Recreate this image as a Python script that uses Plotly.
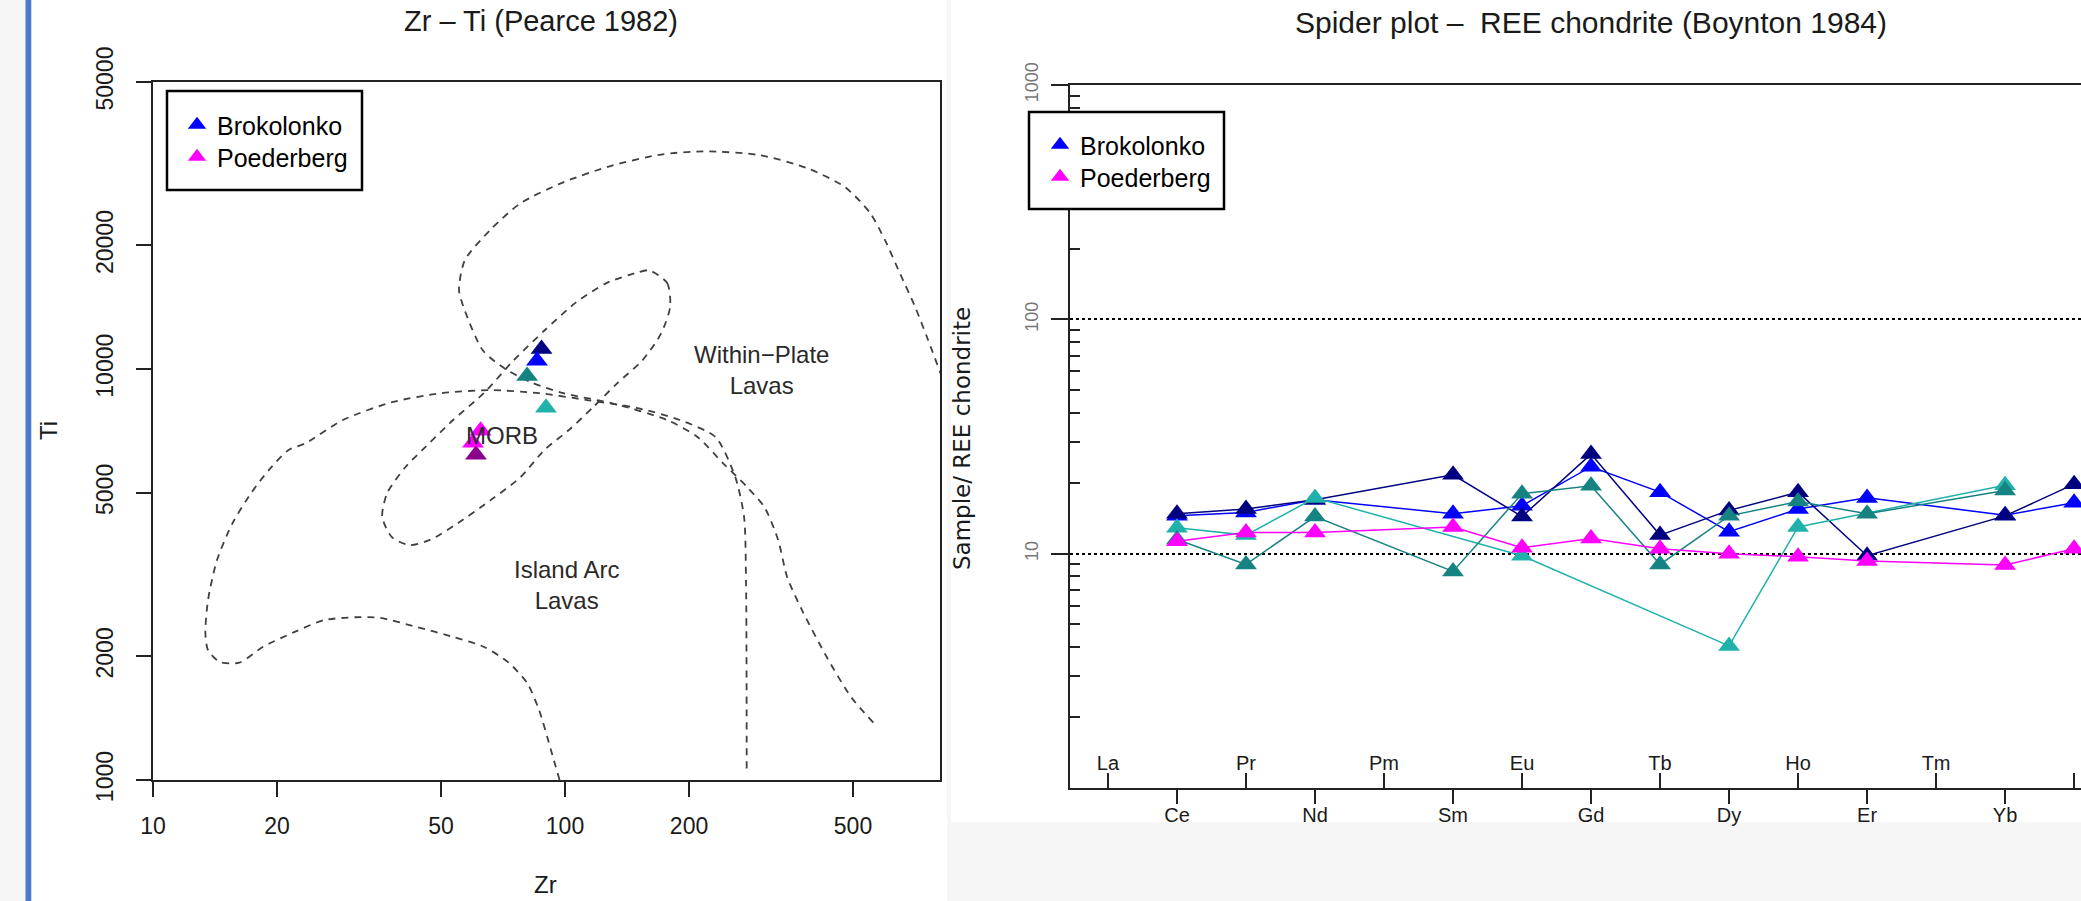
import math
import plotly.graph_objects as go

# ---------------- Left panel: Zr - Ti (Pearce 1982) ----------------
ZT_COLORS = ["navy", "blue", "#168383", "lightseagreen", "magenta", "magenta", "darkmagenta"]
ZT_ZR = [87.7, 85.5, 80.9, 89.9, 62.4, 59.8, 60.8]
ZT_TI = [11190, 10480, 9630, 8050, 7080, 6620, 6190]

# field boundaries (Zr ppm, Ti ppm)
WP_ZR = [560, 495, 432, 376, 346, 329, 305, 277, 242, 210, 177, 130, 99, 83.6, 72.3, 63.2, 57.1,
         55.3, 57.1, 65.8, 77.8, 99, 130, 171, 217, 296, 389, 479, 550, 598, 650, 707, 760, 836]
WP_TI = [1380, 1590, 1990, 2590, 3120, 3840, 4610, 5160, 5900, 6830, 7520, 8260, 8740, 9250, 9950,
         11100, 13900, 15560, 18400, 21800, 25300, 28500, 31300, 33300, 33900, 33200, 30800, 27700,
         24000, 20600, 17100, 14200, 11800, 9140]

MORB_ZR = [160, 177, 180, 171, 154, 134, 117, 102, 89, 78, 66, 55, 47, 42, 38, 36, 37, 41, 45,
           53.5, 63.5, 75, 89, 106, 126, 150, 160]
MORB_TI = [17400, 16200, 14200, 12200, 10500, 9250, 8080, 7100, 6350, 5460, 4800, 4220, 3840, 3730,
           3900, 4370, 4990, 5780, 6350, 7520, 8740, 10500, 12400, 14500, 16200, 17200, 17400]

IA_ZR = [97, 92.5, 86.5, 81, 73, 63.5, 53.5, 43.5, 35.6, 31, 26, 22, 18.5, 16.2, 14.5, 13.6, 13.4,
         13.6, 14.3, 15.6, 17.3, 19.1, 21.3, 23.5, 28.9, 38, 50, 65.8, 86.5, 114, 150, 190, 232,
         259, 272, 275, 276]
IA_TI = [1000, 1180, 1480, 1720, 1930, 2110, 2230, 2360, 2480, 2490, 2450, 2290, 2110, 1930, 1940,
         2070, 2280, 2740, 3430, 4220, 4990, 5680, 6350, 6610, 7520, 8310, 8740, 8890, 8740, 8400,
         8040, 7520, 6830, 5460, 4370, 3010, 1030]

FIELD_TEXT = ["Within\u2212Plate<br>Lavas", "MORB", "Island Arc<br>Lavas"]
FIELD_ZR = [300, 70.3, 100.6]
FIELD_TI = [9950, 6900, 2980]

ZR_TICKS = [10, 20, 50, 100, 200, 500]
TI_TICKS = [1000, 2000, 5000, 10000, 20000, 50000]

# ---------------- Right panel: REE spider plot ----------------
REE = ["La", "Ce", "Pr", "Nd", "Pm", "Sm", "Eu", "Gd", "Tb", "Dy", "Ho", "Er", "Tm", "Yb", "Lu"]
REE_BLUE = [None, 14.5, 15.0, 17.0, None, 14.8, 16.0, 23.5, 18.3, 12.4, 15.5, 17.3, None, 14.6, 16.5]
REE_NAVY = [None, 14.8, 15.5, 17.0, None, 21.7, 14.4, 26.6, 12.0, 15.3, 18.3, 9.8, None, 14.5, 19.8]
REE_CYAN = [None, 12.9, 12.0, 17.3, None, None, 9.8, None, None, 4.04, 13.0, None, None, 19.6, None]
REE_TEAL = [None, 11.5, 9.0, 14.4, None, 8.4, 18.0, 19.5, 9.0, 14.5, 16.7, 14.8, None, 18.6, None]
REE_MAGENTA = [None, 11.3, 12.3, 12.3, None, 13.0, 10.6, 11.6, 10.5, 10.0, 9.7, 9.3, None, 8.95, 10.5]
SPIDER_SERIES = [REE_BLUE, REE_NAVY, REE_CYAN, REE_TEAL, REE_MAGENTA]
SPIDER_COLORS = ["blue", "navy", "lightseagreen", "#168383", "magenta"]

Y_TICKS_REE = [1, 10, 100, 1000]
LEGEND_NAMES = ["Brokolonko", "Poederberg"]
LEGEND_COLORS = ["blue", "magenta"]

# ---------------- helpers ----------------
W, H = 2081, 901
def px(x):
    return x / W
def py(y):
    return 1 - y / H

FONT = "Liberation Sans, Arial, sans-serif"
TXT = "#1a1a1a"
AX = "#222222"
BOUND = "#404040"

fig = go.Figure()

# boundaries
for xs, ys in [(WP_ZR, WP_TI), (MORB_ZR, MORB_TI), (IA_ZR, IA_TI)]:
    fig.add_trace(go.Scatter(x=xs, y=ys, mode="lines", xaxis="x", yaxis="y",
                             line=dict(color=BOUND, width=1.8, dash="7px,6px", shape="spline", smoothing=0.7),
                             showlegend=False, hoverinfo="skip"))

for zr, ti, c in zip(ZT_ZR, ZT_TI, ZT_COLORS):
    fig.add_trace(go.Scatter(x=[zr], y=[ti], mode="markers", xaxis="x", yaxis="y",
                             marker=dict(symbol="triangle-up", size=19, color=c, line=dict(width=0)),
                             showlegend=False))

x_idx = list(range(len(REE)))
for vals, c in zip(SPIDER_SERIES, SPIDER_COLORS):
    fig.add_trace(go.Scatter(x=x_idx, y=vals, mode="lines+markers", connectgaps=True,
                             xaxis="x2", yaxis="y2",
                             line=dict(color=c, width=1.5),
                             marker=dict(symbol="triangle-up", size=19, color=c, line=dict(width=0)),
                             showlegend=False))
# registers the secondary (inside-label) category axis
fig.add_trace(go.Scatter(x=[None], y=[None], xaxis="x3", yaxis="y2", mode="markers",
                         showlegend=False, hoverinfo="skip"))

# legend entries (one legend per entry for exact placement)
leg_left = ["legend", "legend3"]
leg_right = ["legend2", "legend4"]
for name, c, ll, lr in zip(LEGEND_NAMES, LEGEND_COLORS, leg_left, leg_right):
    fig.add_trace(go.Scatter(x=[None], y=[None], mode="markers", xaxis="x", yaxis="y",
                             marker=dict(symbol="triangle-up", size=16, color=c),
                             name=name, legend=ll, showlegend=True))
    fig.add_trace(go.Scatter(x=[None], y=[None], mode="markers", xaxis="x2", yaxis="y2",
                             marker=dict(symbol="triangle-up", size=16, color=c),
                             name=name, legend=lr, showlegend=True))

shapes = [
    dict(type="rect", xref="paper", yref="paper", x0=px(31), x1=px(947), y0=0, y1=1,
         fillcolor="white", line=dict(width=0), layer="below"),
    dict(type="rect", xref="paper", yref="paper", x0=px(951), x1=1, y0=py(822), y1=1,
         fillcolor="white", line=dict(width=0), layer="below"),
    dict(type="rect", xref="paper", yref="paper", x0=px(25.5), x1=px(31.3), y0=0, y1=1,
         fillcolor="#4a78d0", line=dict(width=0), layer="below"),
    dict(type="rect", xref="paper", yref="paper", x0=px(167), x1=px(362), y0=py(190), y1=py(91),
         fillcolor="white", line=dict(color="black", width=2.5), layer="above"),
    dict(type="rect", xref="paper", yref="paper", x0=px(1029), x1=px(1224), y0=py(209), y1=py(112),
         fillcolor="white", line=dict(color="black", width=2.5), layer="above"),
]

annotations = [
    dict(text="Zr \u2013 Ti (Pearce 1982)", x=px(541), y=py(21), xref="paper", yref="paper",
         showarrow=False, font=dict(family=FONT, size=29, color=TXT), xanchor="center", yanchor="middle"),
    dict(text="Spider plot \u2013  REE chondrite (Boynton 1984)", x=px(1591), y=py(23), xref="paper", yref="paper",
         showarrow=False, font=dict(family=FONT, size=30, color=TXT), xanchor="center", yanchor="middle"),
    dict(text="Ti", x=px(48), y=py(431), xref="paper", yref="paper", textangle=-90,
         showarrow=False, font=dict(family=FONT, size=24, color=TXT), xanchor="center", yanchor="middle"),
    dict(text="Zr", x=px(545), y=py(884), xref="paper", yref="paper",
         showarrow=False, font=dict(family=FONT, size=24, color=TXT), xanchor="center", yanchor="middle"),
    dict(text="Sample/ REE chondrite", x=px(962), y=py(439), xref="paper", yref="paper", textangle=-90,
         showarrow=False, font=dict(family="DejaVu Sans, sans-serif", size=23, color=TXT),
         xanchor="center", yanchor="middle"),
]
for t, zr, ti in zip(FIELD_TEXT, FIELD_ZR, FIELD_TI):
    annotations.append(dict(text=t, x=math.log10(zr), y=math.log10(ti), xref="x", yref="y",
                            showarrow=False, font=dict(family=FONT, size=24, color="#2a2a2a"),
                            xanchor="center", yanchor="middle"))

minor_vals = [m * d for d in (1, 10, 100) for m in range(2, 10)]

def legend_box(x, y):
    return dict(x=px(x), y=py(y), xanchor="left", yanchor="middle",
                bgcolor="rgba(0,0,0,0)", borderwidth=0,
                font=dict(family=FONT, size=25, color="black"), tracegroupgap=0)

fig.update_layout(
    template="none",
    width=W, height=H, margin=dict(l=0, r=0, t=0, b=0, autoexpand=False),
    paper_bgcolor="#f6f6f6", plot_bgcolor="white",
    font=dict(family=FONT, color=TXT),
    shapes=shapes, annotations=annotations,
    xaxis=dict(domain=[px(153), px(940)], anchor="y", type="log", automargin=False,
               range=[1, math.log10(813)], showline=True, linecolor=AX, linewidth=2, mirror=True,
               ticks="outside", ticklen=15, tickwidth=2, tickcolor=AX,
               tickmode="array", tickvals=ZR_TICKS, ticktext=[str(v) for v in ZR_TICKS],
               tickfont=dict(family=FONT, size=23, color=TXT), ticklabelstandoff=9,
               showgrid=False, zeroline=False),
    yaxis=dict(domain=[py(780), py(82)], anchor="x", type="log", automargin=False,
               range=[3, math.log10(50000)], showline=True, linecolor=AX, linewidth=2, mirror=True,
               ticks="outside", ticklen=15, tickwidth=2, tickcolor=AX,
               tickmode="array", tickvals=TI_TICKS, ticktext=[str(v) for v in TI_TICKS],
               tickangle=-90, tickfont=dict(family=FONT, size=23, color=TXT), ticklabelstandoff=14,
               showgrid=False, zeroline=False),
    xaxis2=dict(domain=[px(1070), 1], anchor="y2", range=[-0.55, 14.10], automargin=False,
                showline=True, linecolor=AX, linewidth=2, mirror=True,
                ticks="outside", ticklen=14, tickwidth=2, tickcolor=AX,
                tickmode="array", tickvals=x_idx[1::2], ticktext=REE[1::2],
                tickfont=dict(family=FONT, size=20, color=TXT), ticklabelstandoff=-6,
                showgrid=False, zeroline=False),
    xaxis3=dict(overlaying="x2", anchor="y2", side="bottom", range=[-0.55, 14.10], automargin=False,
                showline=False, ticks="inside", ticklen=15, tickwidth=2, tickcolor=AX,
                tickmode="array", tickvals=x_idx[0::2], ticktext=REE[0::2],
                ticklabelposition="inside",
                tickfont=dict(family=FONT, size=20, color=TXT),
                showgrid=False, zeroline=False),
    yaxis2=dict(domain=[py(788), py(85)], anchor="x2", type="log", range=[0, 3], automargin=False,
                showline=True, linecolor=AX, linewidth=2, mirror=False,
                ticks="outside", ticklen=17, tickwidth=2, tickcolor=AX,
                tickmode="array", tickvals=Y_TICKS_REE, ticktext=[str(v) for v in Y_TICKS_REE],
                tickangle=-90, tickfont=dict(family=FONT, size=18, color="#777777"), ticklabelstandoff=6,
                showgrid=True, gridcolor="black", griddash="dot", gridwidth=1.5,
                minor=dict(ticks="inside", ticklen=10, tickwidth=1.5, tickcolor=AX,
                           tickmode="array", tickvals=minor_vals, showgrid=False),
                zeroline=False),
    legend=legend_box(177, 125),
    legend3=legend_box(177, 157),
    legend2=legend_box(1040, 145),
    legend4=legend_box(1040, 177),
)

fig.write_html("out.html", config={"displayModeBar": False},
               post_script="document.body.style.margin='0';")
